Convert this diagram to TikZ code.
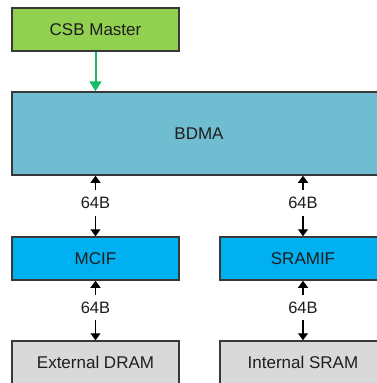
\documentclass[tikz,border=0pt]{standalone}
\usepackage{fontspec}
\setmainfont{Liberation Sans}
\usetikzlibrary{arrows.meta}

\definecolor{csbgreen}{RGB}{146,208,80}
\definecolor{bdmablue}{RGB}{112,189,209}
\definecolor{ifblue}{RGB}{0,176,240}
\definecolor{memgray}{RGB}{217,217,217}
\definecolor{edge}{RGB}{56,56,56}
\definecolor{ctrlgreen}{RGB}{20,190,100}
\definecolor{ink}{RGB}{30,30,30}

\tikzset{
  block/.style={draw=edge, line width=1.5pt, minimum height=43pt,
    inner sep=0pt, text=ink, font=\fontsize{17}{20}\selectfont},
  bus/.style={draw=black, line width=1.2pt, {Triangle[length=7pt,width=10pt]}-{Triangle[length=7pt,width=10pt]}},
  buslabel/.style={fill=white, inner xsep=2pt, inner ysep=7pt, text=ink,
    font=\fontsize{16.5}{19}\selectfont},
  ctrl/.style={draw=ctrlgreen, line width=2pt, -{Triangle[length=10pt,width=12pt]}},
}

\begin{document}
\begin{tikzpicture}[x=1pt,y=-1pt]
  \useasboundingbox[clip] (0,0) rectangle (377,383);
  \fill[white] (0,0) rectangle (377,383);

  % blocks
  \node[block, fill=csbgreen, minimum width=167pt] (csb)  at (95.5,29.5)  {CSB Master};
  \node[block, fill=bdmablue, minimum width=374pt, minimum height=83pt] (bdma) at (199,133.5) {BDMA};
  \node[block, fill=ifblue,   minimum width=167pt] (mcif)   at (95.5,258.5) {MCIF};
  \node[block, fill=ifblue,   minimum width=166pt] (sramif) at (303,258.5)  {SRAMIF};
  \node[block, fill=memgray,  minimum width=167pt] (dram)   at (95.5,362.5) {External DRAM};
  \node[block, fill=memgray,  minimum width=166pt] (isram)  at (303,362.5)  {Internal SRAM};

  % control path
  \draw[ctrl] (csb.south) -- (csb.south |- bdma.north);

  % 64B data buses
  \draw[bus] (mcif.north |- bdma.south) -- node[buslabel, pos=0.45] {64B} (mcif.north);
  \draw[bus] (sramif.north |- bdma.south) -- node[buslabel, pos=0.45] {64B} (sramif.north);
  \draw[bus] (mcif.south) -- node[buslabel, pos=0.45] {64B} (dram.north);
  \draw[bus] (sramif.south) -- node[buslabel, pos=0.45] {64B} (isram.north);
\end{tikzpicture}
\end{document}
